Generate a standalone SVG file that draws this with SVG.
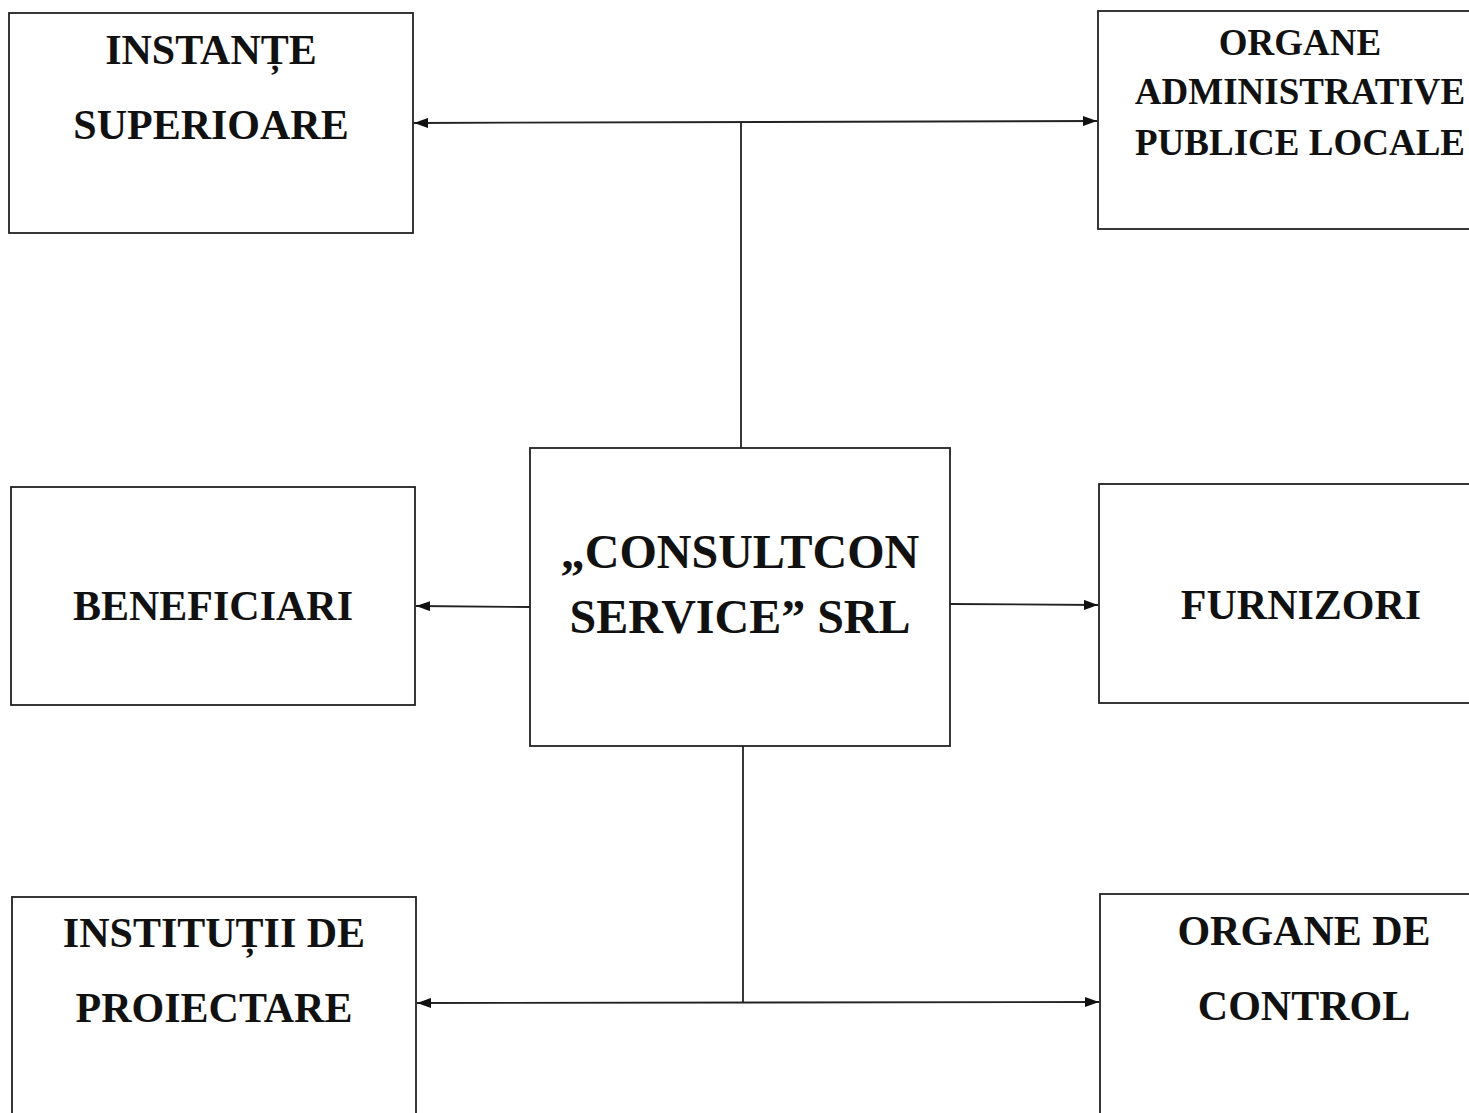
<svg xmlns="http://www.w3.org/2000/svg" width="1469" height="1113" viewBox="0 0 1469 1113">
<style>
.box{fill:#fff;stroke:#222;stroke-width:1.8}
.t{font-family:"Liberation Serif","Times New Roman",serif;font-weight:bold;font-size:42px;fill:#111;text-anchor:middle}
.s{font-size:37px}
.c{font-size:48px}
.ln{stroke:#222;stroke-width:1.8;fill:none}
</style>
<defs>
<marker id="ah" viewBox="0 0 14 10" refX="14" refY="5" markerWidth="14" markerHeight="10" markerUnits="userSpaceOnUse" orient="auto-start-reverse">
<path d="M0,0 L14,5 L0,10 Z" fill="#111"/>
</marker>
</defs>
<rect width="1469" height="1113" fill="#fff"/>
<g id="connectors">
<line class="ln" x1="414" y1="123" x2="1097" y2="121" marker-start="url(#ah)" marker-end="url(#ah)"/>
<line class="ln" x1="741" y1="122" x2="741" y2="448"/>
<line class="ln" x1="530" y1="607" x2="416" y2="606" marker-end="url(#ah)"/>
<line class="ln" x1="950" y1="604" x2="1098" y2="605" marker-end="url(#ah)"/>
<line class="ln" x1="743" y1="746" x2="743" y2="1003"/>
<line class="ln" x1="417" y1="1003" x2="1099" y2="1002" marker-start="url(#ah)" marker-end="url(#ah)"/>
</g>
<g id="instante">
<rect class="box" x="9" y="13" width="404" height="220"/>
<text class="t" x="211" y="64">INSTANȚE</text>
<text class="t" x="211" y="139">SUPERIOARE</text>
</g>
<g id="organe-admin">
<rect class="box" x="1098" y="11" width="380" height="218"/>
<text class="t s" x="1300" y="55">ORGANE</text>
<text class="t s" x="1300" y="104">ADMINISTRATIVE</text>
<text class="t s" x="1300" y="155">PUBLICE LOCALE</text>
</g>
<g id="beneficiari">
<rect class="box" x="11" y="487" width="404" height="218"/>
<text class="t" x="213" y="620">BENEFICIARI</text>
</g>
<g id="consultcon">
<rect class="box" x="530" y="448" width="420" height="298"/>
<text class="t c" x="740" y="568">„CONSULTCON</text>
<text class="t c" x="740" y="633">SERVICE” SRL</text>
</g>
<g id="furnizori">
<rect class="box" x="1099" y="484" width="380" height="219"/>
<text class="t" x="1301" y="619">FURNIZORI</text>
</g>
<g id="institutii">
<rect class="box" x="12" y="897" width="404" height="230"/>
<text class="t" x="214" y="947">INSTITUȚII DE</text>
<text class="t" x="214" y="1022">PROIECTARE</text>
</g>
<g id="organe-control">
<rect class="box" x="1100" y="894" width="380" height="230"/>
<text class="t" x="1304" y="945">ORGANE DE</text>
<text class="t" x="1304" y="1020">CONTROL</text>
</g>
</svg>
